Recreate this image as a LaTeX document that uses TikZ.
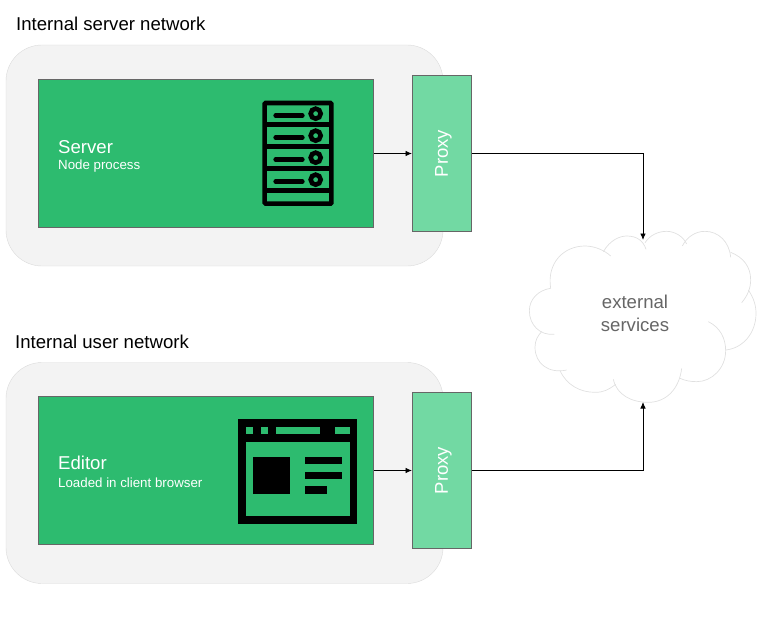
\documentclass[tikz,border=0pt]{standalone}
\usepackage{fontspec}
\setmainfont{Liberation Sans}
\usetikzlibrary{arrows.meta}
\definecolor{panelgrey}{HTML}{F3F3F3}
\definecolor{panelline}{HTML}{DBDBDB}
\definecolor{hostgreen}{HTML}{2DBB6F}
\definecolor{proxygreen}{HTML}{72D9A3}
\tikzset{
	panel/.style={draw=panelline, fill=panelgrey, rounded corners=36pt, minimum width=437pt, minimum height=221pt, inner sep=0pt},
	hostbox/.style={draw=black!60, line width=0.6pt, fill=hostgreen, minimum width=335.5pt, minimum height=148.5pt, inner sep=0pt},
	proxybox/.style={draw=black!60, line width=0.6pt, fill=proxygreen, minimum width=59pt, minimum height=155.5pt, inner sep=0pt},
	proxylabel/.style={rotate=90, inner sep=0pt, text=white, font=\fontsize{18.5}{21}\selectfont},
	heading/.style={anchor=base west, inner sep=0pt, font=\fontsize{18.6}{21}\selectfont},
	hostname/.style={anchor=base west, inner sep=0pt, text=white, font=\fontsize{18.6}{21}\selectfont},
	hostnote/.style={anchor=base west, inner sep=0pt, text=white, font=\fontsize{13.3}{15}\selectfont},
	link/.style={draw=black, line width=0.85pt, -{Latex[length=6.5pt,width=5.5pt]}},
	puff/.style={draw=black!12, line width=0.7pt},
}
\begin{document}
\begin{tikzpicture}[x=1pt, y=-1pt]
	\useasboundingbox (0,0) rectangle (783,620);
	\node[heading] (servernet) at (16,31) {Internal server network};
	\node[heading] (usernet) at (15,348) {Internal user network};
	\node[panel] (serverpanel) at (224.5,155.5) {};
	\node[panel] (userpanel) at (224.5,473) {};
	\node[hostbox] (server) at (206,153.5) {};
	\node[hostbox] (editor) at (206,470.5) {};
	\node[proxybox] (serverproxy) at (441.8,153.5) {};
	\node[proxybox] (userproxy) at (441.8,470.5) {};
	\node[proxylabel] (serverproxylabel) at (443.5,153.5) {Proxy};
	\node[proxylabel] (userproxylabel) at (443.5,470.5) {Proxy};
	\node[hostname] (servername) at (58,154) {Server};
	\node[hostnote] (servernote) at (58,170) {Node process};
	\node[hostname] (editorname) at (58,469) {Editor};
	\node[hostnote] (editornote) at (58,487) {Loaded in client browser};
	% server icon
	\begin{scope}[shift={(240,85)}, scale=1/3]
		\draw[line width=4.6pt, rounded corners=1pt] (74,54) rectangle (274,356);
		\foreach \rowy in {119,185,251,317} {
			\draw[line width=4.6pt] (74,\rowy) -- (274,\rowy);
		}
		\foreach \rowy in {92,158,224,290} {
			\draw[line width=4.6pt, line cap=round] (107,\rowy) -- (187,\rowy);
			\draw[line width=4.6pt] (227,\rowy-6) circle (15);
		}
	\end{scope}
	% browser icon
	\begin{scope}[shift={(225,405)}, scale=1/3]
		\fill (40,43) rectangle (396,356);
		\fill[hostgreen] (62,110) rectangle (374,333);
		\fill[hostgreen] (62,66) rectangle (84,88);
		\fill[hostgreen] (107,66) rectangle (129,88);
		\fill[hostgreen] (152,66) rectangle (286,88);
		\fill[hostgreen] (331,66) rectangle (374,88);
		\fill (85,155) rectangle (196,266);
		\fill (241,155) rectangle (352,177);
		\fill (241,200) rectangle (352,221);
		\fill (241,244) rectangle (307,266);
	\end{scope}
	% cloud
	\begin{scope}[shift={(520,220)}, scale=1/3]
		\draw[puff] (92,205) .. controls (80,130) and (130,78) .. (195,78) .. controls (225,78) and (255,92) .. (272,108);
		\draw[puff] (250,95) .. controls (270,60) and (300,48) .. (320,48) .. controls (350,48) and (370,62) .. (378,88);
		\draw[puff] (375,68) .. controls (390,45) and (415,34) .. (440,34) .. controls (465,34) and (490,50) .. (500,72);
		\draw[puff] (487,78) .. controls (500,52) and (525,34) .. (555,34) .. controls (595,34) and (628,65) .. (632,112);
		\draw[puff] (632,97) .. controls (670,112) and (692,140) .. (692,180) .. controls (692,205) and (682,228) .. (665,248);
		\draw[puff] (685,210) .. controls (700,232) and (708,255) .. (708,280) .. controls (708,340) and (668,385) .. (617,390);
		\draw[puff] (565,305) .. controls (600,322) and (617,355) .. (617,392) .. controls (617,445) and (575,485) .. (530,485) .. controls (512,485) and (495,482) .. (480,475);
		\draw[puff] (485,445) .. controls (478,505) and (440,547) .. (385,547) .. controls (335,547) and (290,525) .. (280,478);
		\draw[puff] (287,493) .. controls (265,510) and (250,517) .. (225,517) .. controls (180,517) and (140,495) .. (120,452);
		\draw[puff] (140,450) .. controls (85,462) and (45,430) .. (45,382) .. controls (45,362) and (53,347) .. (65,335);
		\draw[puff] (103,343) .. controls (60,347) and (28,315) .. (28,272) .. controls (28,238) and (55,210) .. (92,205);
	\end{scope}
	\node[align=center, text=black!60, inner sep=0pt, font=\fontsize{18.6}{22.5}\selectfont] (services) at (635,313.5) {external\\services};
	\coordinate (cloudtop) at (643,240);
	\coordinate (cloudbottom) at (643,402);
	\draw[link] (server) -- (serverproxy);
	\draw[link] (editor) -- (userproxy);
	\draw[link] (serverproxy) -| (cloudtop);
	\draw[link] (userproxy) -| (cloudbottom);
\end{tikzpicture}
\end{document}
